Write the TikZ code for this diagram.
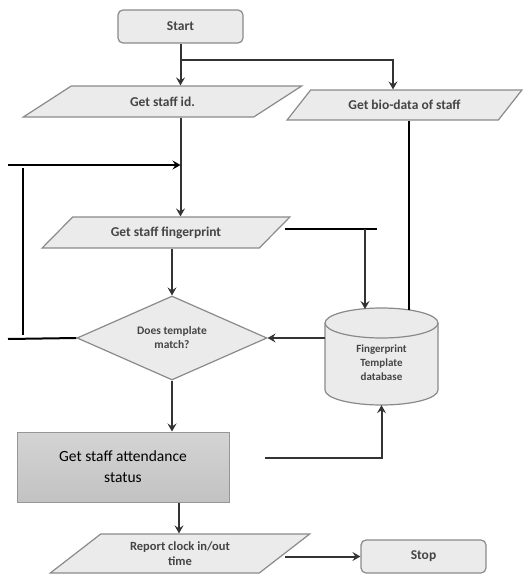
\documentclass[tikz,border=0pt]{standalone}
\usepackage{fontspec}
\setmainfont{Carlito}
\usetikzlibrary{shapes.geometric,arrows.meta,calc}
\definecolor{shapefill}{HTML}{EBEBEB}
\definecolor{shapeedge}{HTML}{8A8A8A}
\definecolor{arrowgray}{HTML}{333333}
\definecolor{labelgray}{HTML}{454545}
\definecolor{boxtop}{HTML}{D4D4D4}
\definecolor{boxbot}{HTML}{C2C2C2}
\begin{document}
\begin{tikzpicture}[x=1pt,y=-1pt,
  >={Stealth[length=8pt,width=9pt,inset=3pt]},
  lbl/.style={font=\bfseries\fontsize{13.5}{15}\selectfont, text=labelgray, align=center},
  term/.style={lbl, draw=shapeedge, line width=1.2pt, fill=shapefill, rounded corners=5pt,
    minimum width=125pt, minimum height=33pt, inner sep=0pt},
  io/.style={lbl, draw=shapeedge, line width=1.2pt, fill=shapefill, trapezium,
    trapezium stretches=true, inner sep=0pt},
  arr/.style={draw=arrowgray, line width=2pt, ->},
  blk/.style={draw=black, line width=2pt},
  blkarr/.style={draw=black, line width=2pt, ->}
]
\useasboundingbox (0,0) rectangle (525,578);

% terminals
\node[term] (start) at (180.5,26.5) {Start};
\node[term] (stop) at (423.5,556.5) {Stop};

% input/output parallelograms
\node[io, minimum width=279pt, minimum height=31pt,
  trapezium left angle=29.4, trapezium right angle=150.6] (id) at (162.5,101.5) {Get staff id.};
\node[io, minimum width=235pt, minimum height=30pt,
  trapezium left angle=34.3, trapezium right angle=145.7] (bio) at (404.5,105) {Get bio-data of staff};
\node[io, minimum width=248pt, minimum height=31pt,
  trapezium left angle=33.1, trapezium right angle=146.9] (fp) at (166,232.5) {Get staff fingerprint};
\node[io, minimum width=260pt, minimum height=39pt,
  trapezium left angle=36.9, trapezium right angle=143.1,
  font=\bfseries\fontsize{12.5}{15}\selectfont] (rep) at (180,553.5) {Report clock in/out\\time};

% decision
\node[diamond, aspect=2.26, draw=shapeedge, line width=1.2pt, fill=shapefill, minimum width=190pt,
  minimum height=84pt, inner sep=0pt, lbl, font=\bfseries\fontsize{11.5}{14}\selectfont]
  (dm) at (172,338) {Does template\\match?};

% database cylinder
\fill[shapefill] (325,323) -- (325,390) arc[start angle=180,end angle=360,x radius=56.5,y radius=-15]
  -- (438,323) arc[start angle=0,end angle=180,x radius=56.5,y radius=-15] -- cycle;
\draw[shapeedge, line width=1.2pt] (325,323) -- (325,390)
  arc[start angle=180,end angle=360,x radius=56.5,y radius=-15] -- (438,323);
\draw[shapeedge, line width=1.2pt] (381.5,323) ellipse[x radius=56.5, y radius=15];
\node[lbl, font=\bfseries\fontsize{11}{14}\selectfont, minimum width=113pt, minimum height=97pt,
  inner sep=0pt] (db) at (381.5,356.5) {\\[7pt]Fingerprint\\Template\\database};

% process box
\node[draw=shapeedge!90, line width=1pt, top color=boxtop, bottom color=boxbot,
  minimum width=212pt, minimum height=70pt, inner sep=0pt, align=center,
  font=\fontsize{15.5}{21}\selectfont] (att) at (123,467) {Get staff attendance\\status};

% free ends
\coordinate (br) at (180,60);
\coordinate (loopA) at (8,165);
\coordinate (loopB) at (23,168);
\coordinate (loopC) at (23,335);
\coordinate (loopD) at (8,339);
\coordinate (fpA) at (285,229);
\coordinate (fpB) at (377,229);
\coordinate (fpC) at (365,229);
\coordinate (attA) at (265,458);

% connectors
\draw[arr] (start.south) -- (start.south |- id.north);
\draw[arr] (br) -| ($(bio.north)+(-11.5,0)$);
\draw[arr] (start.south |- id.south) -- (start.south |- fp.north);
\draw[blkarr] (loopA) -- (loopA -| start.south);
\draw[blk] (loopB) -- (loopC);
\draw[blk] (loopD) -- (dm.west);
\draw[arr] (dm.north |- fp.south) -- (dm.north);
\draw[blk] (fpA) -- (fpB);
\draw[arr] (fpC) -- (365,309);
\draw[blk] (bio.south -| 409,0) -- (409,310);
\draw[arr] (dm.east -| db.west) -- (dm.east);
\draw[arr] (dm.south) -- (dm.south |- att.north);
\draw[arr] (attA) -| (db.south);
\draw[arr] (179,0 |- att.south) -- (179,0 |- rep.north);
\draw[arr] (stop.west -| rep.east) -- (stop.west);
\end{tikzpicture}
\end{document}
